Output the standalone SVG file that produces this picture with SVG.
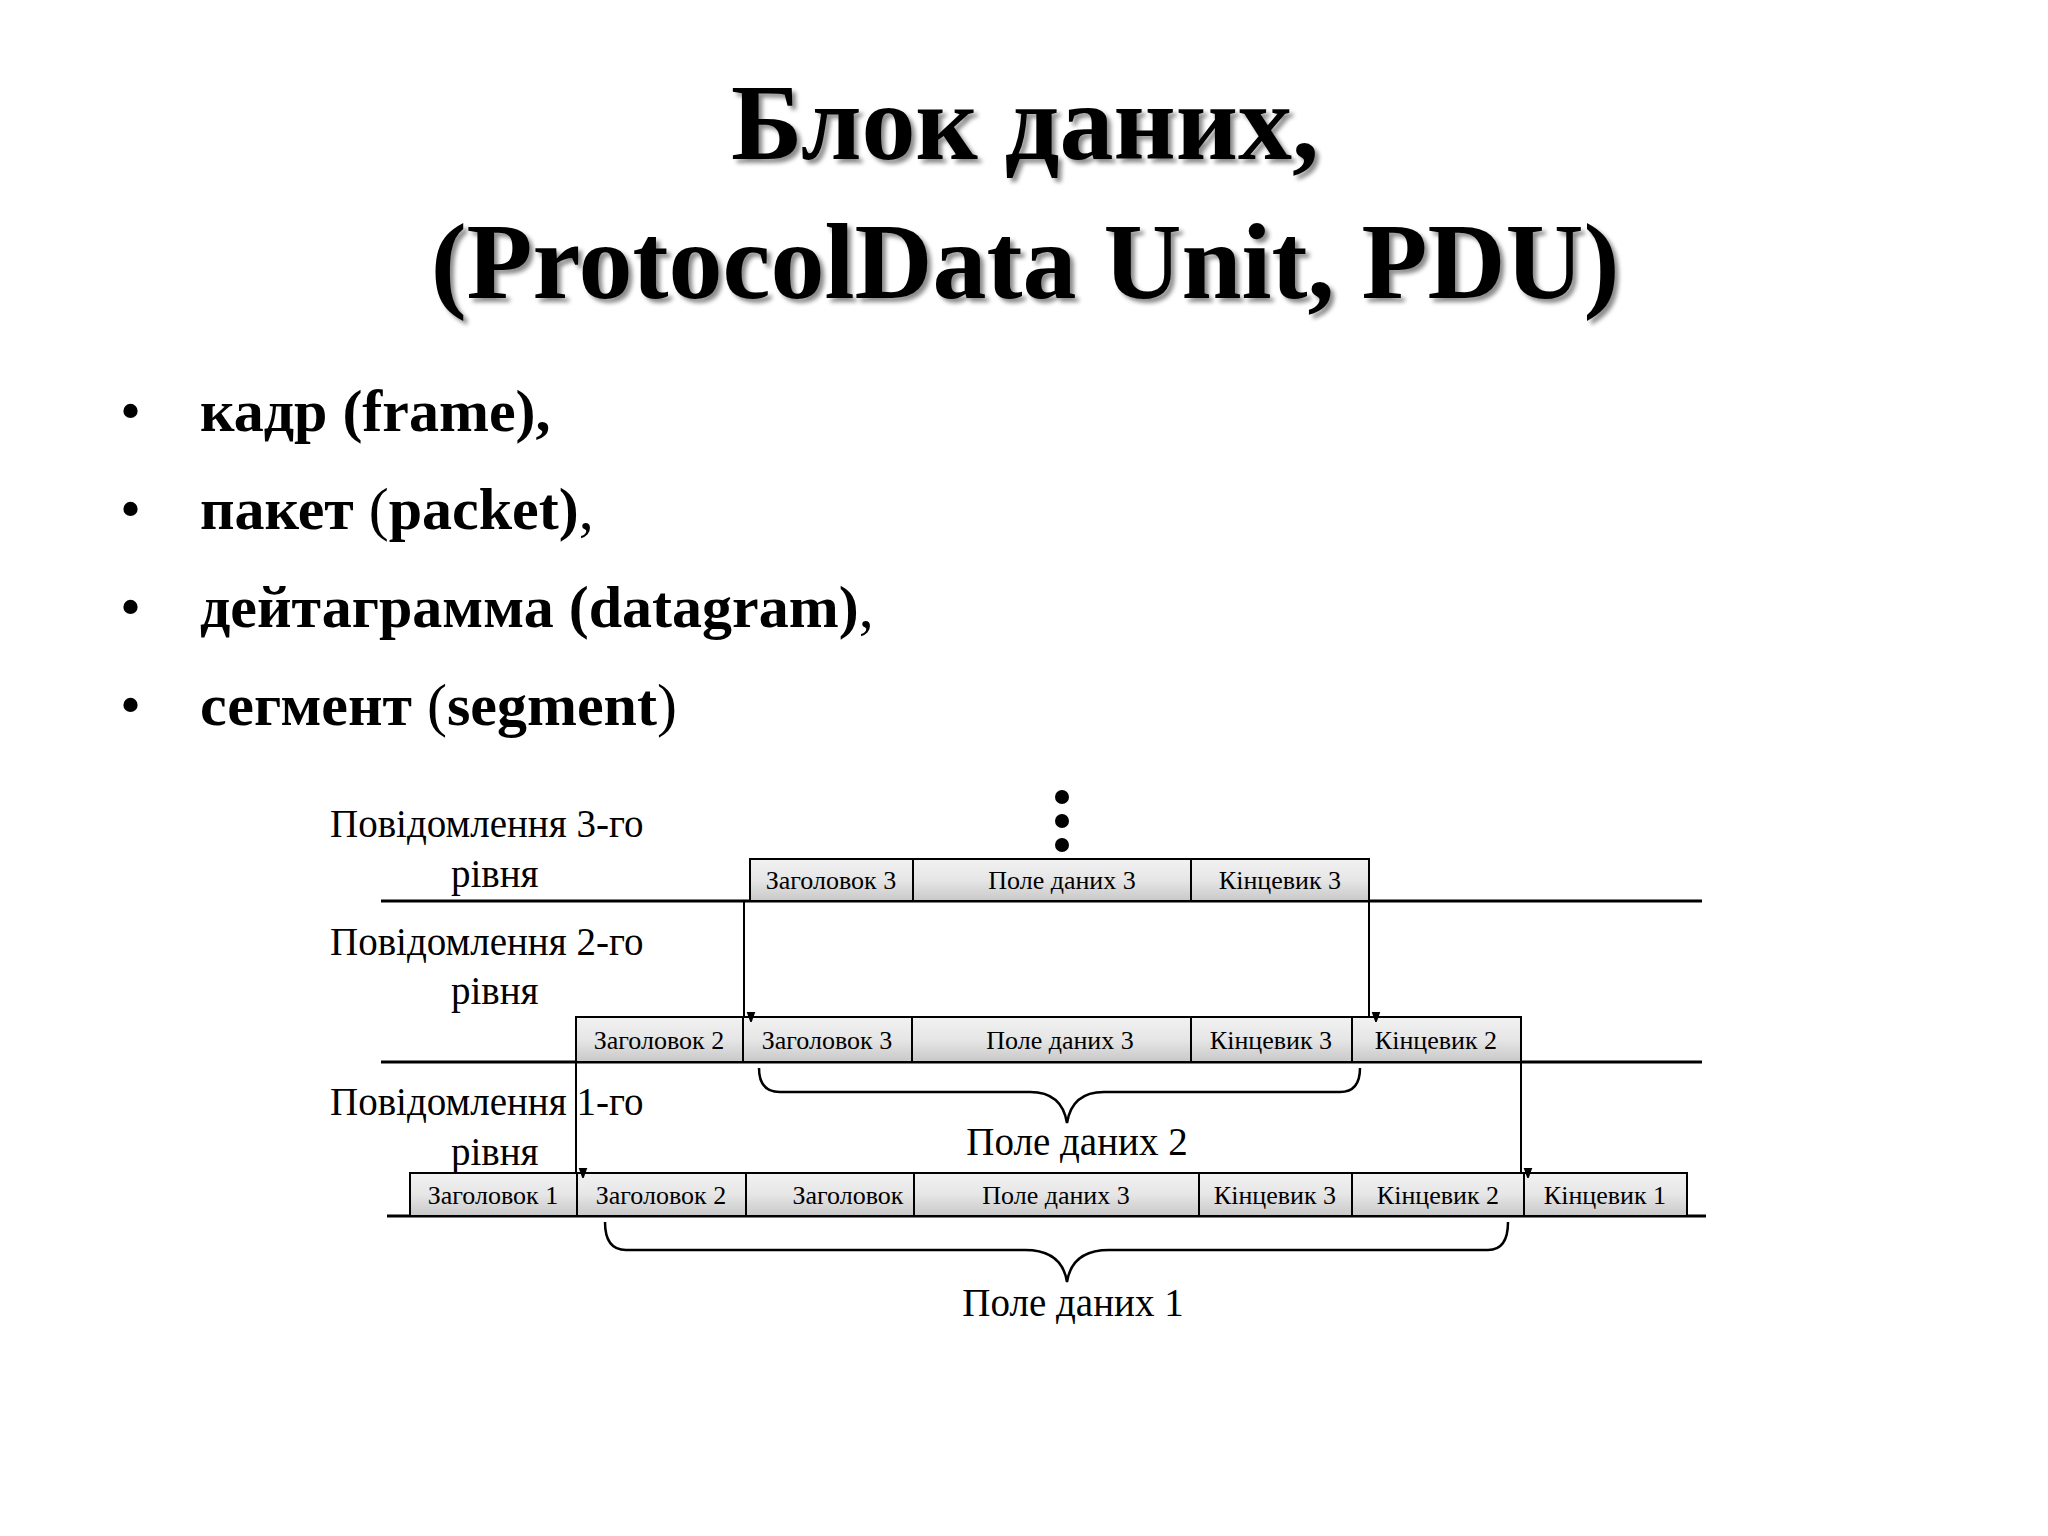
<svg xmlns="http://www.w3.org/2000/svg" width="2048" height="1536" viewBox="0 0 2048 1536">
<style>
.t{font-family:"Liberation Serif",serif;fill:#000}
.title{font-size:108px;font-weight:bold;text-anchor:middle}
.bul{font-size:60px}
.lbl{font-size:39px}
.bx{font-size:26px;text-anchor:middle}
.box{fill:url(#g);stroke:#000;stroke-width:2}
.ln{stroke:#000;stroke-width:3}
.ar{stroke:#000;stroke-width:2;marker-end:url(#ah)}
.br{fill:none;stroke:#000;stroke-width:2.5}
</style>
<defs>
<linearGradient id="g" x1="0" y1="0" x2="0" y2="1"><stop offset="0" stop-color="#f2f2f2"/><stop offset="0.5" stop-color="#e6e6e6"/><stop offset="1" stop-color="#c8c8c8"/></linearGradient>
<marker id="ah" markerWidth="10" markerHeight="14" refX="5" refY="14" orient="auto" markerUnits="userSpaceOnUse" viewBox="0 0 10 14"><path d="M0,0 L5,14 L10,0 Z" transform="rotate(-90 5 7)" fill="#000"/></marker>
<filter id="sh"><feDropShadow dx="4" dy="4" stdDeviation="2" flood-color="#000" flood-opacity="0.45"/></filter>
</defs>
<rect width="2048" height="1536" fill="#fff"/>
<g id="title" filter="url(#sh)">
<text class="t title" x="1025" y="159">Блок даних,</text>
<text class="t title" x="1025" y="298">(ProtocolData Unit, PDU)</text>
</g>
<g id="bullets">
<text class="t bul" x="120" y="431">•</text><text class="t bul" x="200" y="431"><tspan font-weight="bold">кадр (frame),</tspan></text>
<text class="t bul" x="120" y="529">•</text><text class="t bul" x="200" y="529"><tspan font-weight="bold">пакет </tspan>(<tspan font-weight="bold">packet)</tspan>,</text>
<text class="t bul" x="120" y="627">•</text><text class="t bul" x="200" y="627"><tspan font-weight="bold">дейтаграмма (datagram)</tspan>,</text>
<text class="t bul" x="120" y="725">•</text><text class="t bul" x="200" y="725"><tspan font-weight="bold">сегмент </tspan>(<tspan font-weight="bold">segment</tspan>)</text>
</g>
<g id="labels">
<text class="t lbl" x="330" y="837">Повідомлення 3-го</text><text class="t lbl" x="451" y="887">рівня</text>
<text class="t lbl" x="330" y="955">Повідомлення 2-го</text><text class="t lbl" x="451" y="1004">рівня</text>
<text class="t lbl" x="330" y="1115">Повідомлення 1-го</text><text class="t lbl" x="451" y="1165">рівня</text>
</g>
<g id="dots"><circle cx="1062" cy="797" r="7"/><circle cx="1062" cy="821" r="7"/><circle cx="1062" cy="845" r="7"/></g>
<g id="lines">
<line class="ln" x1="381" y1="901" x2="1702" y2="901"/>
<line class="ln" x1="381" y1="1062" x2="1702" y2="1062"/>
<line class="ln" x1="387" y1="1216" x2="1706" y2="1216"/>
</g>
<g id="row3">
<rect class="box" x="750" y="859" width="163" height="42"/><text class="t bx" x="831" y="889">Заголовок 3</text>
<rect class="box" x="913" y="859" width="278" height="42"/><text class="t bx" x="1062" y="889">Поле даних 3</text>
<rect class="box" x="1191" y="859" width="178" height="42"/><text class="t bx" x="1280" y="889">Кінцевик 3</text>
</g>
<g id="row2">
<rect class="box" x="576" y="1017" width="167" height="45"/><text class="t bx" x="659" y="1049">Заголовок 2</text>
<rect class="box" x="743" y="1017" width="169" height="45"/><text class="t bx" x="827" y="1049">Заголовок 3</text>
<rect class="box" x="912" y="1017" width="279" height="45"/><text class="t bx" x="1060" y="1049">Поле даних 3</text>
<rect class="box" x="1191" y="1017" width="161" height="45"/><text class="t bx" x="1271" y="1049">Кінцевик 3</text>
<rect class="box" x="1352" y="1017" width="169" height="45"/><text class="t bx" x="1436" y="1049">Кінцевик 2</text>
</g>
<g id="row1">
<rect class="box" x="410" y="1173" width="167" height="43"/><text class="t bx" x="493" y="1204">Заголовок 1</text>
<rect class="box" x="577" y="1173" width="169" height="43"/><text class="t bx" x="661" y="1204">Заголовок 2</text>
<rect class="box" x="746" y="1173" width="168" height="43"/><text class="t bx" x="848" y="1204">Заголовок</text>
<rect class="box" x="914" y="1173" width="285" height="43"/><text class="t bx" x="1056" y="1204">Поле даних 3</text>
<rect class="box" x="1199" y="1173" width="153" height="43"/><text class="t bx" x="1275" y="1204">Кінцевик 3</text>
<rect class="box" x="1352" y="1173" width="172" height="43"/><text class="t bx" x="1438" y="1204">Кінцевик 2</text>
<rect class="box" x="1524" y="1173" width="163" height="43"/><text class="t bx" x="1605" y="1204">Кінцевик 1</text>
</g>
<g id="connectors">
<line class="ar" x1="744" y1="901" x2="744" y2="1017"/>
<line class="ar" x1="1369" y1="901" x2="1369" y2="1017"/>
<line class="ar" x1="576" y1="1062" x2="576" y2="1173"/>
<line class="ar" x1="1521" y1="1062" x2="1521" y2="1173"/>
<path class="br" d="M759,1068 Q759,1092 780,1092 L1030,1092 Q1062,1092 1067,1123 Q1072,1092 1104,1092 L1340,1092 Q1360,1092 1360,1068"/>
<path class="br" d="M605,1222 Q605,1250 626,1250 L1025,1250 Q1062,1250 1067,1282 Q1072,1250 1109,1250 L1488,1250 Q1508,1250 1508,1222"/>
</g>
<g id="brace-labels">
<text class="t lbl" x="1077" y="1155" text-anchor="middle">Поле даних 2</text>
<text class="t lbl" x="1073" y="1316" text-anchor="middle">Поле даних 1</text>
</g>
</svg>
